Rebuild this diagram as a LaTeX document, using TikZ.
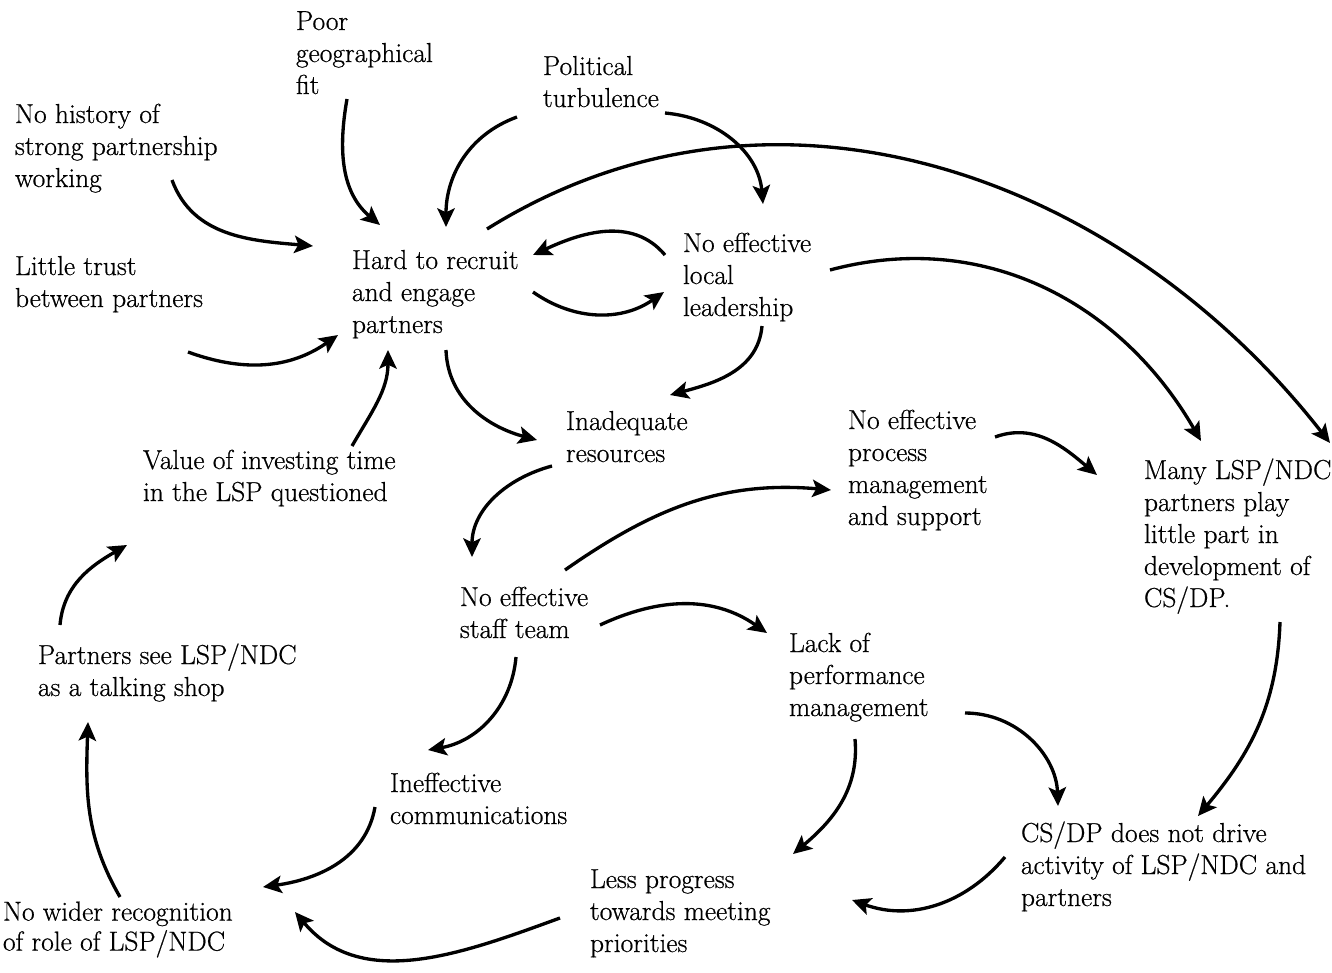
\documentclass[tikz,border=0pt]{standalone}
\usepackage{fontspec}
\setmainfont{Latin Modern Roman}[FakeBold=0.6]
\usetikzlibrary{arrows.meta}
\begin{document}
\begin{tikzpicture}[x=0.75pt,y=0.75pt,
  lbl/.style={anchor=north west,inner sep=0pt,outer sep=0pt,align=left,
    font=\rmfamily\fontsize{20.6}{24}\selectfont},
  arr/.style={line width=2.5pt,-{Stealth[length=14pt,width=13pt,inset=3pt]}}]
\useasboundingbox (0,0) rectangle (1332,-972);
% labels
\node[lbl] (poor) at (296,-7.6) {\strut Poor\\geographical\\fit};
\node[lbl] (pol) at (543,-52.6) {\strut Political\\turbulence};
\node[lbl] (hist) at (15,-100.6) {\strut No history of\\strong partnership\\working};
\node[lbl] (trust) at (15,-252.6) {\strut Little trust\\between partners};
\node[lbl] (hard) at (352,-246.6) {\strut Hard to recruit\\and engage\\partners};
\node[lbl] (lead) at (683,-229.6) {\strut No effective\\local\\leadership};
\node[lbl] (res) at (566,-407.6) {\strut Inadequate\\resources};
\node[lbl] (proc) at (848,-406.6) {\strut No effective\\process\\management\\and support};
\node[lbl] (many) at (1144,-456.6) {\strut Many LSP/NDC\\partners play\\little part in\\development of\\CS/DP.};
\node[lbl] (value) at (143,-446.6) {\strut Value of investing time\\in the LSP questioned};
\node[lbl] (staff) at (460,-583.6) {\strut No effective\\staff team};
\node[lbl] (shop) at (38,-641.6) {\strut Partners see LSP/NDC\\as a talking shop};
\node[lbl] (perf) at (789,-629.6) {\strut Lack of\\performance\\management};
\node[lbl] (comm) at (390,-769.6) {\strut Ineffective\\communications};
\node[lbl] (csdp) at (1021,-819.6) {\strut CS/DP does not drive\\activity of LSP/NDC and\\partners};
\node[lbl] (less) at (590,-865.6) {\strut Less progress\\towards meeting\\priorities};
\node[lbl,font=\rmfamily\fontsize{20.6}{22.5}\selectfont] (wider) at (3,-899.6) {\strut No wider recognition\\of role of LSP/NDC};
% connector end points
\coordinate (poorS) at (347,-99);
\coordinate (hardA) at (380,-225);
\coordinate (histS) at (172,-180);
\coordinate (hardB) at (313,-246);
\coordinate (trustS) at (188,-352);
\coordinate (hardC) at (338,-335);
\coordinate (polL) at (517,-117);
\coordinate (hardD) at (446,-227);
\coordinate (polR) at (665,-113);
\coordinate (leadA) at (763,-204);
\coordinate (hardR) at (487,-229);
\coordinate (manyR) at (1330,-443);
\coordinate (leadL) at (665,-255);
\coordinate (hardE) at (533,-255);
\coordinate (hardF) at (533,-292);
\coordinate (leadB) at (664,-292);
\coordinate (leadR) at (830,-270);
\coordinate (manyL) at (1201,-441);
\coordinate (leadD) at (762,-326);
\coordinate (resA) at (670,-395);
\coordinate (hardG) at (446,-350);
\coordinate (resB) at (537,-440);
\coordinate (valueS) at (352,-446);
\coordinate (hardH) at (388,-350);
\coordinate (resS) at (552,-466);
\coordinate (staffA) at (472,-557);
\coordinate (procS) at (995,-437);
\coordinate (manyB) at (1097,-475);
\coordinate (staffS) at (565,-570);
\coordinate (procA) at (831,-490);
\coordinate (staffR) at (600,-625);
\coordinate (perfA) at (767,-633);
\coordinate (staffD) at (516,-657);
\coordinate (commA) at (428,-750);
\coordinate (perfR) at (965,-713);
\coordinate (csdpA) at (1058,-806);
\coordinate (manyS) at (1280,-622);
\coordinate (csdpB) at (1198,-816);
\coordinate (perfD) at (855,-739);
\coordinate (lessA) at (793,-854);
\coordinate (commS) at (375,-807);
\coordinate (widerA) at (263,-887);
\coordinate (csdpS) at (1005,-857);
\coordinate (lessB) at (852,-900);
\coordinate (lessS) at (560,-918);
\coordinate (widerB) at (295,-912);
\coordinate (widerS) at (120,-897);
\coordinate (shopA) at (88,-722);
\coordinate (shopS) at (60,-625);
\coordinate (valueA) at (127,-545);
% connectors
\draw[arr] (poorS) to[out=-100,in=140] (hardA);
\draw[arr] (histS) to[out=-70,in=175] (hardB);
\draw[arr] (trustS) to[out=-20,in=-145] (hardC);
\draw[arr] (polL) to[out=200,in=90] (hardD);
\draw[arr] (polR) to[out=-5,in=95] (leadA);
\draw[arr] (hardR) to[out=32,in=128] (manyR);
\draw[arr] (leadL) to[out=130,in=25] (hardE);
\draw[arr] (hardF) to[out=-35,in=-145] (leadB);
\draw[arr] (leadR) to[out=15,in=120] (manyL);
\draw[arr] (leadD) to[out=-95,in=15] (resA);
\draw[arr] (hardG) to[out=-88,in=165] (resB);
\draw[arr] (valueS) to[out=60,in=-90] (hardH);
\draw[arr] (resS) to[out=195,in=90] (staffA);
\draw[arr] (procS) to[out=20,in=140] (manyB);
\draw[arr] (staffS) to[out=35,in=175] (procA);
\draw[arr] (staffR) to[out=25,in=145] (perfA);
\draw[arr] (staffD) to[out=-95,in=10] (commA);
\draw[arr] (perfR) to[out=0,in=92] (csdpA);
\draw[arr] (manyS) to[out=-92,in=50] (csdpB);
\draw[arr] (perfD) to[out=-85,in=40] (lessA);
\draw[arr] (commS) to[out=-100,in=8] (widerA);
\draw[arr] (csdpS) to[out=-130,in=-20] (lessB);
\draw[arr] (lessS) to[out=200,in=-50] (widerB);
\draw[arr] (widerS) to[out=120,in=-92] (shopA);
\draw[arr] (shopS) to[out=85,in=-150] (valueA);
\end{tikzpicture}
\end{document}
